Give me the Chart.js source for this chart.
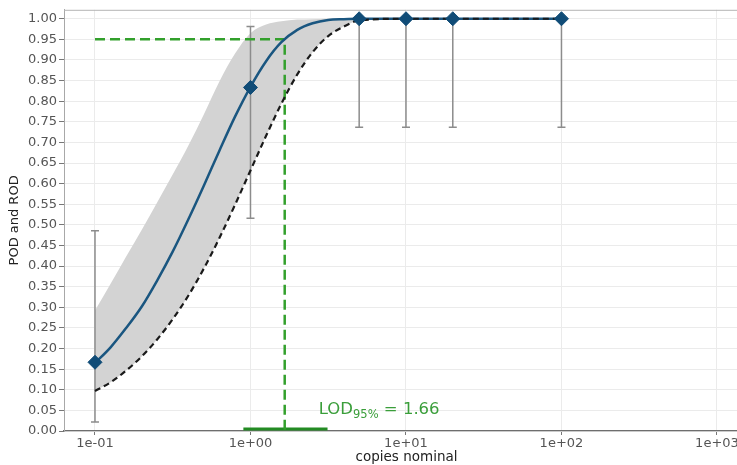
<!DOCTYPE html>
<html>
<head>
<meta charset="utf-8">
<script src="https://cdn.jsdelivr.net/npm/chart.js@4/dist/chart.umd.min.js"></script>
<style>
  html, body { margin: 0; padding: 0; background: #fff; overflow: hidden; }
  #wrap { width: 737px; height: 465px; overflow: hidden; position: relative; }
  canvas { display: block; }
</style>
</head>
<body>
<div id="wrap"><canvas id="c" width="760" height="465"></canvas></div>
<script>
// ---- data ----
const concentrations = [0.1, 1, 5, 10, 20, 100];
const podObserved    = [0.1667, 0.8333, 1.0, 1.0, 1.0, 1.0];
const ciLow          = [0.022, 0.516, 0.737, 0.737, 0.737, 0.737];
const ciHigh         = [0.486, 0.981, 1.0, 1.0, 1.0, 1.0];

const curveX   = [0.1, 0.126, 0.158, 0.2, 0.251, 0.316, 0.398, 0.501, 0.631, 0.794, 1, 1.26, 1.58, 2, 2.51, 3.16, 3.98, 5.01, 10, 20, 100];
const podCurve = [0.165, 0.203, 0.249, 0.302, 0.365, 0.435, 0.513, 0.595, 0.680, 0.762, 0.835, 0.897, 0.943, 0.973, 0.989, 0.997, 0.999, 1.0, 1.0, 1.0, 1.0];
const podLower = [0.097, 0.118, 0.146, 0.181, 0.222, 0.271, 0.328, 0.394, 0.468, 0.548, 0.632, 0.716, 0.794, 0.865, 0.919, 0.958, 0.981, 0.996, 1.0, 1.0, 1.0];
const podUpper = [0.292, 0.357, 0.422, 0.488, 0.554, 0.622, 0.692, 0.768, 0.848, 0.915, 0.965, 0.986, 0.994, 0.998, 0.999, 1.0, 1.0, 1.0, 1.0, 1.0, 1.0];

const lodValue = 1.66;
const lodLevel = 0.95;
const lodStartX = 0.1;
const lodCI = [0.9, 3.13];
const lodCIy = 0.005;

const xTickValues = [0.1, 1, 10, 100, 1000];
const xTickLabels = ['1e-01', '1e+00', '1e+01', '1e+02', '1e+03'];
const yTickValues = [0.00, 0.05, 0.10, 0.15, 0.20, 0.25, 0.30, 0.35, 0.40, 0.45, 0.50,
                     0.55, 0.60, 0.65, 0.70, 0.75, 0.80, 0.85, 0.90, 0.95, 1.00];
const xMin = 0.0632, xMax = 1607;
const yMin = 0, yMax = 1.0217;

// ---- helpers ----
const pts = (xs, ys) => xs.map((x, i) => ({ x: x, y: ys[i] }));
const BAND_INDEX = 5;

Chart.defaults.font.family = "'DejaVu Sans', sans-serif";

const errorBarPlugin = {
  id: 'errorBars',
  afterDatasetDraw(chart, args) {
    if (args.index !== BAND_INDEX) return;
    const { ctx, scales: { x, y } } = chart;
    ctx.save();
    ctx.strokeStyle = '#8c8c8c';
    ctx.lineWidth = 1.5;
    concentrations.forEach((c, i) => {
      const px = x.getPixelForValue(c);
      const y1 = y.getPixelForValue(ciLow[i]);
      const y2 = y.getPixelForValue(ciHigh[i]);
      ctx.beginPath();
      ctx.moveTo(px, y1); ctx.lineTo(px, y2);
      ctx.moveTo(px - 4, y1); ctx.lineTo(px + 4, y1);
      ctx.moveTo(px - 4, y2); ctx.lineTo(px + 4, y2);
      ctx.stroke();
    });
    ctx.restore();
  }
};

const framePlugin = {
  id: 'frame',
  afterDatasetsDraw(chart) {
    const { ctx, chartArea: a, scales: { x, y } } = chart;
    ctx.save();
    // top spine
    ctx.strokeStyle = '#b4b4b4';
    ctx.lineWidth = 1;
    ctx.beginPath();
    ctx.moveTo(a.left, a.top + 0.5); ctx.lineTo(a.right, a.top + 0.5);
    ctx.stroke();
    // LOD annotation text
    const px = x.getPixelForValue(lodValue) + 34;
    const py = y.getPixelForValue(0) - 17;
    ctx.fillStyle = '#3a9e3a';
    ctx.textBaseline = 'alphabetic';
    ctx.textAlign = 'left';
    ctx.font = "16.5px 'DejaVu Sans'";
    ctx.fillText('LOD', px, py);
    let w = ctx.measureText('LOD').width;
    ctx.font = "11.5px 'DejaVu Sans'";
    ctx.fillText('95%', px + w, py + 4);
    w += ctx.measureText('95%').width;
    ctx.font = "16.5px 'DejaVu Sans'";
    ctx.fillText(' = ' + lodValue.toFixed(2), px + w, py);
    ctx.restore();
  }
};

new Chart(document.getElementById('c'), {
  type: 'scatter',
  data: {
    datasets: [
      { // 0 observed POD diamonds
        data: pts(concentrations, podObserved),
        pointStyle: 'rectRot', pointRadius: 7, pointHoverRadius: 7,
        backgroundColor: '#104c77', borderColor: '#104c77', borderWidth: 1,
        showLine: false, order: 0
      },
      { // 1 fitted POD curve
        data: pts(curveX, podCurve),
        showLine: true, borderColor: '#1a5680', borderWidth: 2.5,
        pointRadius: 0, cubicInterpolationMode: 'monotone', fill: false, order: 2
      },
      { // 2 lower confidence bound (dashed)
        data: pts(curveX, podLower),
        showLine: true, borderColor: '#1a1a1a', borderWidth: 2.2, borderDash: [6, 4],
        pointRadius: 0, cubicInterpolationMode: 'monotone', fill: false, order: 1
      },
      { // 3 LOD95 guide lines
        data: [{ x: lodStartX, y: lodLevel }, { x: lodValue, y: lodLevel }, { x: lodValue, y: 0 }],
        showLine: true, borderColor: '#33a02c', borderWidth: 2.5, borderDash: [10, 5],
        pointRadius: 0, tension: 0, fill: false, order: 3
      },
      { // 4 LOD confidence interval on x axis
        data: [{ x: lodCI[0], y: lodCIy }, { x: lodCI[1], y: lodCIy }],
        showLine: true, borderColor: '#238b23', borderWidth: 3,
        pointRadius: 0, fill: false, order: 4
      },
      { // 5 upper bound -> band to lower bound
        data: pts(curveX, podUpper),
        showLine: true, borderWidth: 0, borderColor: 'rgba(0,0,0,0)',
        backgroundColor: '#d3d3d3', pointRadius: 0,
        cubicInterpolationMode: 'monotone', fill: 2, order: 10
      }
    ]
  },
  options: {
    responsive: false,
    animation: false,
    events: [],
    layout: { padding: { left: 0, top: 8, right: 11, bottom: 0 } },
    plugins: { legend: { display: false }, tooltip: { enabled: false } },
    scales: {
      x: {
        type: 'logarithmic',
        min: xMin, max: xMax,
        afterBuildTicks: s => { s.ticks = xTickValues.map(v => ({ value: v, major: true })); },
        afterFit: s => { s.height = 34; },
        ticks: {
          callback: (v, i) => xTickLabels[i],
          color: '#555', font: { size: 13 }, padding: 1, autoSkip: false, maxRotation: 0
        },
        grid: { color: '#ebebeb', lineWidth: 1, tickLength: 4, tickColor: '#777', drawTicks: true },
        border: { display: true, color: '#6e6e6e', width: 1.2 },
        title: { display: true, text: 'copies nominal', color: '#222', font: { size: 13.5 }, padding: { top: 0, bottom: -1 } }
      },
      y: {
        type: 'linear',
        min: yMin, max: yMax,
        afterBuildTicks: s => { s.ticks = yTickValues.map(v => ({ value: v })); },
        afterFit: s => { s.width = 64; },
        ticks: {
          callback: v => Number(v).toFixed(2),
          color: '#555', font: { size: 13 }, padding: 2, autoSkip: false
        },
        grid: { color: '#ebebeb', lineWidth: 1, tickLength: 5, tickColor: '#777', drawTicks: true },
        border: { display: true, color: '#a8a8a8', width: 1 },
        title: { display: true, text: 'POD and ROD', color: '#222', font: { size: 13 }, padding: { top: 7, bottom: 0 } }
      }
    }
  },
  plugins: [errorBarPlugin, framePlugin]
});
</script>
</body>
</html>
